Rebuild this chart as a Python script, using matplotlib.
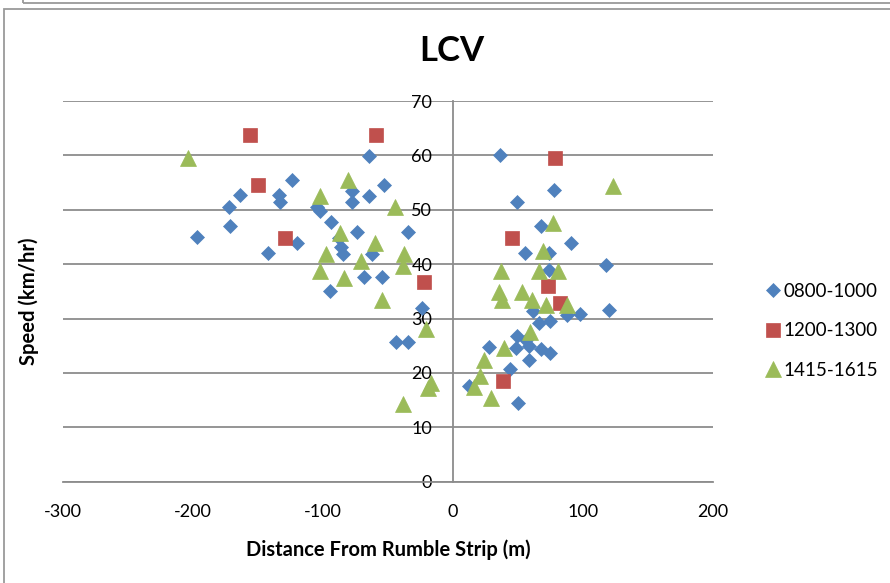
import matplotlib
matplotlib.use("Agg")
import matplotlib.pyplot as plt
from matplotlib.patches import Rectangle

plt.rcParams['font.family'] = ['Lato', 'DejaVu Sans']
plt.rcParams['axes.unicode_minus'] = False

# ---- data ----
blue_x = [-197, -172, -171.5, -164, -142, -134, -133, -124, -120, -104.5, -102.5, -93.5,
          -88, -86.5, -85, -74, -65, -65, -77.5, -77.5, -53, -62.5, -34.5, -68.5, -55,
          -95, -24, -43.5, -35,
          36, 78, 49, 67.5, 91, 55.5, 74, 74, 118, 120, 97.5, 88, 74.5, 66, 61.5, 49.5,
          28, 48.7, 58.5, 67.5, 74.5, 58.5, 43.6, 12, 50, 56]
blue_y = [45, 50.5, 47, 52.7, 42, 52.8, 51.4, 55.4, 43.8, 50.5, 49.7, 47.7,
          44.8, 43.1, 41.9, 46, 59.9, 52.6, 53.4, 51.4, 54.5, 41.9, 45.9, 37.6, 37.6,
          35, 32, 25.6, 25.6,
          60, 53.7, 51.5, 47, 43.9, 42, 42, 39, 39.8, 31.6, 30.8, 30.7, 29.6, 29.2, 31.4, 26.7,
          24.8, 24.6, 24.9, 24.4, 23.7, 22.4, 20.8, 17.6, 14.4, 26]

red_x = [-156, -59, -150, -129, -22, 78.5, 45, 73, 82, 38.5]
red_y = [63.8, 63.8, 54.6, 44.8, 36.8, 59.6, 44.8, 35.9, 32.9, 18.6]

green_x = [-204, -81, -102.5, -44.6, -87, -60, -97.5, -38, -71, -38.5, -102.5, -84,
           -55, -20.5, -17, -19, -38.5,
           123, 77, 69, 37, 66, 81, 35, 38, 53, 61, 71.5, 88, 59, 39, 24, 20.5, 16, 29]
green_y = [59.6, 55.4, 52.5, 50.5, 45.7, 43.8, 41.8, 41.8, 40.5, 39.7, 38.7, 37.5,
           33.4, 28.1, 18.1, 17.2, 14.3,
           54.4, 47.5, 42.5, 38.8, 38.8, 38.8, 34.9, 33.5, 34.9, 33.5, 32.5, 32.5, 27.5,
           24.5, 22.3, 19.4, 17.4, 15.3]

series_names = ['0800-1000', '1200-1300', '1415-1615']
colors = ['#4F81BD', '#C0504D', '#9BBB59']
x_ticks = [-300, -200, -100, 0, 100, 200]
y_ticks = [0, 10, 20, 30, 40, 50, 60, 70]

W, H = 890, 583
fig = plt.figure(figsize=(W / 100, H / 100), dpi=100)

# chart-area frames
fig.patches.append(Rectangle((4 / W, -0.1), 1.2, 1 - 9 / H + 0.1, transform=fig.transFigure,
                             fill=False, edgecolor='#9a9a9a', linewidth=1.3))
fig.patches.append(Rectangle((23 / W, 1 - 3 / H), 1.2, 0.2, transform=fig.transFigure,
                             fill=False, edgecolor='#9a9a9a', linewidth=1.3))

ax = fig.add_axes([63 / W, 1 - 481.7 / H, 650 / W, 380.7 / H])
ax.set_xlim(-300, 200)
ax.set_ylim(0, 70)

grid_c = '#8C8C8C'
ax.set_yticks(y_ticks)
ax.set_xticks(x_ticks)
ax.yaxis.grid(True, color=grid_c, linewidth=1.3)
ax.set_axisbelow(True)
for s in ['top', 'right']:
    ax.spines[s].set_visible(False)
ax.spines['left'].set_position(('data', 0))
ax.spines['left'].set_color(grid_c)
ax.spines['left'].set_linewidth(1.3)
ax.spines['bottom'].set_color(grid_c)
ax.spines['bottom'].set_linewidth(1.3)
ax.tick_params(axis='y', length=0, pad=15, labelsize=13)
ax.tick_params(axis='x', length=0, pad=16, labelsize=13)

ms_kw = dict(linestyle='none')
ax.plot(blue_x, blue_y, marker='D', markersize=7.6, color=colors[0], markeredgecolor=colors[0],
        markeredgewidth=0.5, label=series_names[0], **ms_kw)
ax.plot(red_x, red_y, marker='s', markersize=10.2, color=colors[1], markeredgecolor=colors[1],
        markeredgewidth=0.5, label=series_names[1], **ms_kw)
ax.plot(green_x, green_y, marker='^', markersize=11, color=colors[2], markeredgecolor=colors[2],
        markeredgewidth=0.5, label=series_names[2], **ms_kw)

ax.set_xlabel('Distance From Rumble Strip (m)', fontsize=14.5, fontweight='bold')
ax.set_ylabel('Speed (km/hr)', fontsize=14.5, fontweight='bold')
ax.yaxis.set_label_coords((39 - 63) / 650, (481.7 - 301) / 380.7)
ax.xaxis.set_label_coords((388 - 63) / 650, -(539 - 481.7) / 380.7)

fig.text(452 / W, 1 - 51 / H, 'LCV', fontsize=25, fontweight='bold', ha='center', va='center')

handles, labels = ax.get_legend_handles_labels()
fig.legend(handles, labels, loc='center left', bbox_to_anchor=(756 / W, 1 - 331 / H),
           frameon=False, fontsize=13.5, handlelength=0.8, handletextpad=0.15,
           labelspacing=1.2, borderpad=0)

fig.savefig('out.png', dpi=100)
